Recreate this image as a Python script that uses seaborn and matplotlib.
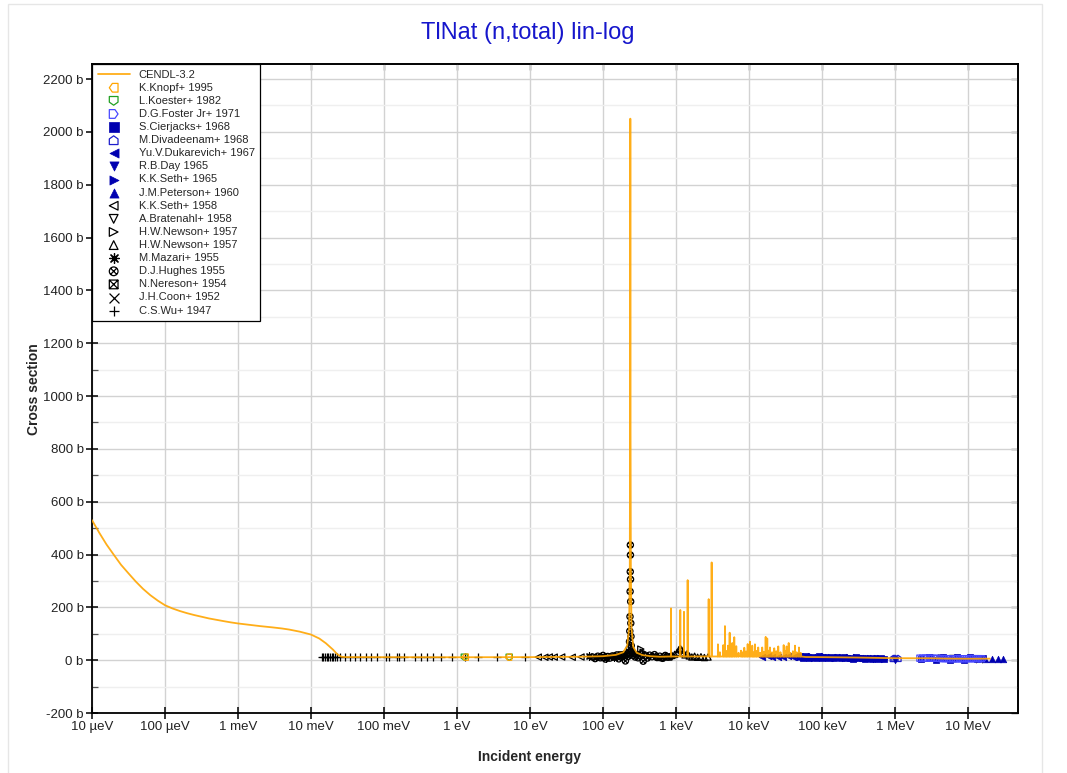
import numpy as np
import pandas as pd
import matplotlib
matplotlib.use("Agg")
import matplotlib.pyplot as plt
from matplotlib.path import Path
from matplotlib.ticker import FixedLocator, FixedFormatter, NullLocator, MultipleLocator, FuncFormatter
from matplotlib.patches import Rectangle
import seaborn as sns

# ---------------- data ----------------
title_text = "TlNat (n,total) lin-log"
x_label = "Incident energy"
y_label = "Cross section"

xtick_vals = [1e-5, 1e-4, 1e-3, 1e-2, 1e-1, 1, 10, 100, 1e3, 1e4, 1e5, 1e6, 1e7]
xtick_labels = ["10 µeV", "100 µeV", "1 meV", "10 meV", "100 meV", "1 eV", "10 eV",
                "100 eV", "1 keV", "10 keV", "100 keV", "1 MeV", "10 MeV"]

# CENDL-3.2 smooth part (eV, b)
cendl_E = [1e-5, 1.26e-5, 1.58e-5, 2e-5, 2.5e-5, 3.2e-5, 4e-5, 5e-5, 6.3e-5, 8e-5, 1e-4,
           1.26e-4, 1.6e-4, 2e-4, 2.5e-4, 3.2e-4, 4e-4, 5e-4, 6.3e-4, 8e-4, 1e-3, 1.4e-3,
           2e-3, 3e-3, 4e-3, 5e-3, 7e-3, 1e-2, 1.3e-2, 1.6e-2, 2e-2, 2.3e-2, 2.6e-2, 3e-2,
           0.1, 1, 10, 50, 100, 150, 190, 215, 228, 233, 235.5, 237, 238.5, 241, 246, 260,
           290, 350, 450, 600, 2000, 7500, 27000, 60000, 1e5, 3e5, 1e6, 2e6, 3e6, 5e6, 8e6,
           1e7, 1.4e7, 2e7]
cendl_xs = [530, 482, 438, 398, 361, 327, 297, 270, 246, 225, 208,
            196, 186, 178, 171, 164, 158, 153, 148, 143, 139, 134,
            129, 124, 120, 116, 108, 97, 82, 64, 40, 22, 13, 11.5,
            11.2, 11, 11.5, 13, 15, 20, 30, 55, 120, 350, 900, 2050, 900, 350, 120, 50,
            28, 19, 15, 13, 14, 15, 14, 12, 11.5, 10, 7.5, 7.5, 7.2, 6, 5.4,
            5.5, 5.6, 5.7]
# CENDL-3.2 narrow resonances (eV, peak b) on a background of res_bg
res_E = [855, 1146, 1288, 1446, 2806, 3083, 3758, 4000, 4447, 4690, 4900, 5155, 5440,
         5700, 5905, 6290, 6700, 7200, 7800, 8200, 8630, 9100, 9600, 10330, 11100, 11600,
         12080, 12700, 13400, 14200, 15200, 16000, 16940, 17800, 18600, 19400, 20700,
         22200, 23600, 25200, 27000, 29900, 31000, 32800, 35000, 37000, 40000, 42700,
         45000, 48400, 51000]
res_pk = [196, 190, 183, 303, 231, 370, 60, 30, 57, 129, 35, 55, 104,
          32, 65, 87, 53, 28, 36, 30, 47, 33, 61, 70, 55, 30,
          60, 35, 48, 28, 48, 32, 88, 82, 36, 48, 30,
          45, 34, 52, 30, 57, 36, 52, 65, 28, 34, 55,
          30, 48, 28]
res_bg = 14

knopf_E = [1.3, 5.1]
knopf_xs = [11.5, 11.5]
koester_E = [1.26, 5.19]
koester_xs = [11.3, 11.0]
foster_E = [2.2e6, 2.4e6, 2.6e6, 2.8e6, 3.0e6, 3.2e6, 3.5e6, 3.8e6, 4.1e6, 4.4e6, 4.7e6,
            5.0e6, 5.4e6, 5.8e6, 6.2e6, 6.7e6, 7.2e6, 7.7e6, 8.3e6, 8.9e6, 9.5e6, 10.2e6,
            11e6, 11.8e6, 12.6e6, 13.5e6, 14.4e6, 15.3e6, 16.2e6]
foster_xs = [7.5, 7.7, 7.8, 7.9, 7.8, 7.6, 7.3, 7.0, 6.7, 6.4, 6.1, 5.9, 5.7, 5.5, 5.4,
             5.3, 5.3, 5.3, 5.4, 5.4, 5.5, 5.5, 5.6, 5.7, 5.7, 5.7, 5.6, 5.6, 5.5]
cierjacks_E = [50e3, 55e3, 61e3, 67e3, 74e3, 82e3, 90e3, 100e3, 110e3, 121e3, 134e3,
               148e3, 163e3, 180e3, 198e3, 218e3, 241e3, 266e3, 293e3, 323e3, 356e3,
               393e3, 433e3, 478e3, 527e3, 581e3, 640e3, 700e3,
               2.3e6, 2.9e6, 3.6e6, 4.5e6, 5.6e6, 7.0e6, 8.7e6, 10.8e6, 13.4e6, 16e6]
cierjacks_xs = [15, 9, 14, 10, 13, 8, 14, 9, 12, 8, 13, 9, 11, 7, 12, 8, 10, 6, 11, 7,
                9, 5, 10, 6, 8, 5, 9, 6,
                3.0, 12.5, 2.5, 12.0, 2.0, 11.0, 2.5, 10.5, 3.0, 10.0]
divadeenam_E = [0.95e6, 1.0e6, 1.1e6]
divadeenam_xs = [6.5, 7.0, 6.8]
dukarevich_E = [15e3, 18e3, 21e3, 25e3, 29e3, 34e3, 40e3, 46e3]
dukarevich_xs = [12, 14, 11, 13, 12, 14, 11, 12]
day_E = [5.0e5, 1.0e6]
day_xs = [4, 2]
seth65_E = [50e3, 56e3, 62e3, 70e3, 78e3, 87e3, 97e3, 108e3, 120e3, 135e3, 150e3, 168e3,
            188e3, 210e3, 235e3, 262e3, 292e3, 325e3, 362e3, 404e3, 450e3, 502e3, 560e3,
            625e3, 700e3]
seth65_xs = [13, 16, 12, 14, 10, 13, 12, 15, 11, 12, 9, 12, 11, 9, 12, 8, 11, 10, 8, 10,
             7, 9, 7, 9, 6]
peterson_E = [1.71e7, 2.13e7, 2.58e7, 3.01e7]
peterson_xs = [5.6, 5.5, 5.4, 5.3]
seth58_E = [13, 16, 18.4, 21.5, 27.2, 37.9, 50]
seth58_xs = [11.5, 11, 12, 11.5, 12, 11, 12]
bratenahl_E = [95, 120, 150, 180]
bratenahl_xs = [10, 12, 15, 20]
newson_r_E = [330, 355, 385]
newson_r_xs = [42, 30, 21]
newson_u_E = [560, 640, 720, 800, 880, 960, 1040, 1100, 1150, 1200, 1260, 1330, 1420, 1520,
              1650, 1800, 1980, 2200, 2450, 2750]
newson_u_xs = [14, 10, 16, 12, 18, 22, 30, 40, 44, 38, 26, 20, 24, 16, 12, 15, 11, 13, 10, 12]
mazari_E = [65, 80, 110, 140]
mazari_xs = [14, 12, 10, 13]
hughes_E = [72, 78, 85, 92, 100, 108, 116, 125, 134, 144, 155, 165, 176, 186, 195, 203, 210,
            216, 221, 225, 229, 231, 233, 234.5, 235.5, 236.5, 237.2, 237.8, 238.6, 239.5,
            240.5, 242, 244, 247, 252, 258, 266, 276, 288, 302, 318, 336, 356, 380, 406,
            436, 470, 508, 550, 600, 655, 715, 780, 850]
hughes_xs = [12, 6, 15, 9, 18, 4, 14, 8, 16, 11, 20, 5, 17, 13, 22, -3, 19, 24, 14, 30, 45,
             70, 110, 165, 260, 335, 436, 398, 306, 222, 140, 90, 55, 35, 28, 18, 24, 12, 20,
             9, 17, 22, -4, 16, 8, 19, 13, 21, 10, 15, 7, 18, 12, 14]
nereson_E = [3.0e6, 4.3e6, 6.2e6]
nereson_xs = [8.6, 7.2, 6.2]
coon_E = [14.1e6]
coon_xs = [5.4]
wu_E = [0.01403, 0.01473, 0.01555, 0.0164, 0.01726, 0.0182, 0.0192, 0.0202, 0.0213, 0.0225,
        0.0249, 0.0292, 0.0342, 0.0401, 0.0469, 0.0561, 0.0657, 0.0809, 0.1064, 0.1182,
        0.149, 0.162, 0.188, 0.266, 0.321, 0.392, 0.473, 0.598, 0.845, 1.29, 1.96, 3.50, 8.55]
wu_xs = [12, 13, 12, 12, 13, 12, 12, 13, 12, 12, 12, 13, 12, 12, 12, 12, 12, 12, 12, 12,
         12, 12, 12, 12, 12, 12, 12, 12, 12, 12, 12, 12, 12]

# ---------------- markers ----------------
def poly(verts):
    v = list(verts) + [verts[0]]
    codes = [Path.MOVETO] + [Path.LINETO] * (len(verts) - 1) + [Path.CLOSEPOLY]
    return Path(v, codes)

house_left = poly([(1, -1), (1, 1), (-0.3, 1), (-1, 0), (-0.3, -1)])
shield_down = poly([(-1, 1), (1, 1), (1, -0.3), (0, -1), (-1, -0.3)])
house_right = poly([(-1, -1), (-1, 1), (0.3, 1), (1, 0), (0.3, -1)])
house_up = poly([(-1, -1), (1, -1), (1, 0.3), (0, 1), (-1, 0.3)])
circle_x = Path.make_compound_path(
    Path.unit_circle(),
    Path([(-0.7, -0.7), (0.7, 0.7)], [Path.MOVETO, Path.LINETO]),
    Path([(-0.7, 0.7), (0.7, -0.7)], [Path.MOVETO, Path.LINETO]))
square_x = Path.make_compound_path(
    poly([(-1, -1), (1, -1), (1, 1), (-1, 1)]),
    Path([(-1, -1), (1, 1)], [Path.MOVETO, Path.LINETO]),
    Path([(-1, 1), (1, -1)], [Path.MOVETO, Path.LINETO]))

ORANGE = "#FFA500"
BLUE_D = "#0000B0"

# (label, E, xs, marker, colour, fill mode, drawing order)
datasets = [
    ("K.Knopf+ 1995", knopf_E, knopf_xs, house_left, ORANGE, False, 3.2),
    ("L.Koester+ 1982", koester_E, koester_xs, shield_down, "#22A022", False, 3.1),
    ("D.G.Foster Jr+ 1971", foster_E, foster_xs, house_right, "#4848FF", False, 3.3),
    ("S.Cierjacks+ 1968", cierjacks_E, cierjacks_xs, "s", BLUE_D, True, 3.0),
    ("M.Divadeenam+ 1968", divadeenam_E, divadeenam_xs, house_up, "#1E1ECC", False, 3.0),
    ("Yu.V.Dukarevich+ 1967", dukarevich_E, dukarevich_xs, "<", BLUE_D, True, 3.0),
    ("R.B.Day 1965", day_E, day_xs, "v", BLUE_D, True, 3.0),
    ("K.K.Seth+ 1965", seth65_E, seth65_xs, ">", BLUE_D, True, 3.0),
    ("J.M.Peterson+ 1960", peterson_E, peterson_xs, "^", BLUE_D, True, 3.0),
    ("K.K.Seth+ 1958", seth58_E, seth58_xs, "<", "black", False, 3.0),
    ("A.Bratenahl+ 1958", bratenahl_E, bratenahl_xs, "v", "black", False, 3.0),
    ("H.W.Newson+ 1957", newson_r_E, newson_r_xs, ">", "black", False, 3.0),
    ("H.W.Newson+ 1957 ", newson_u_E, newson_u_xs, "^", "black", False, 3.0),
    ("M.Mazari+ 1955", mazari_E, mazari_xs, (8, 2, 0), "black", "line", 3.0),
    ("D.J.Hughes 1955", hughes_E, hughes_xs, circle_x, "black", False, 3.0),
    ("N.Nereson+ 1954", nereson_E, nereson_xs, square_x, "black", False, 2.9),
    ("J.H.Coon+ 1952", coon_E, coon_xs, "x", "black", "line", 3.0),
    ("C.S.Wu+ 1947", wu_E, wu_xs, "+", "black", "line", 3.0),
]

# ---------------- figure ----------------
sns.set_theme(style="white")
plt.rcParams['font.family'] = ['Liberation Sans', 'DejaVu Sans']

fig = plt.figure(figsize=(10.67, 7.73), dpi=100)
fig.patch.set_facecolor("white")
fig.add_artist(Rectangle((8 / 1067, -0.01), (1042 - 8) / 1067, 1 - 4 / 773 + 0.01,
                         transform=fig.transFigure, fill=False, edgecolor="#e6e6e6", lw=1))
ax = fig.add_axes([92 / 1067, 1 - 713 / 773, (1018 - 92) / 1067, (713 - 64) / 773])

# CENDL curve with resonance spikes
pts = list(zip(cendl_E, cendl_xs))
for e, p in zip(res_E, res_pk):
    pts += [(e * 0.997, res_bg), (e, p), (e * 1.003, res_bg)]
pts.sort(key=lambda t: t[0])
cendl_df = pd.DataFrame(pts, columns=["E", "xs"])
sns.lineplot(data=cendl_df, x="E", y="xs", ax=ax, color=ORANGE, lw=1.3, alpha=0.9,
             sort=False, estimator=None, label="CENDL-3.2", zorder=4)

for label, E, xs, m, col, filled, z in datasets:
    if filled is True:
        sns.scatterplot(x=E, y=xs, ax=ax, marker=m, s=22, color=col, edgecolor=col,
                        linewidth=0.5, label=label, zorder=z)
    elif filled == "line":
        sns.scatterplot(x=E, y=xs, ax=ax, marker=m, s=26, color=col,
                        linewidth=0.9, label=label, zorder=z)
    else:
        sns.scatterplot(x=E, y=xs, ax=ax, marker=m, s=20, color=col, facecolor="none",
                        edgecolor=col, linewidth=0.9, label=label, zorder=z)

ax.set_xscale("log")
ax.set_xlim(1e-5, 4.85e7)
ax.set_ylim(-200, 2257)
ax.xaxis.set_major_locator(FixedLocator(xtick_vals))
ax.xaxis.set_major_formatter(FixedFormatter(xtick_labels))
ax.xaxis.set_minor_locator(NullLocator())
ax.yaxis.set_major_locator(MultipleLocator(200))
ax.yaxis.set_minor_locator(MultipleLocator(100))
ax.yaxis.set_major_formatter(FuncFormatter(lambda v, p: f"{v:.0f} b"))
ax.set_xlabel("")
ax.set_ylabel("")

ax.grid(which="major", color="#d2d2d2", lw=1)
ax.grid(which="minor", axis="y", color="#efefef", lw=1)
ax.set_axisbelow(True)

for s in ax.spines.values():
    s.set_visible(True)
    s.set_color("black")
    s.set_linewidth(1.3)

ax.tick_params(which="major", direction="inout", length=8, width=1.1, color="black",
               labelsize=9.5, labelcolor="#222222", left=True, bottom=True, pad=2)
ax.tick_params(which="minor", direction="in", length=4, width=0.9, color="#555555", left=True)

secx = ax.secondary_xaxis("top")
secx.xaxis.set_major_locator(FixedLocator(xtick_vals))
secx.xaxis.set_minor_locator(NullLocator())
secx.tick_params(which="major", direction="in", length=4, width=1, color="#444444",
                 labeltop=False)
secy = ax.secondary_yaxis("right")
secy.yaxis.set_major_locator(MultipleLocator(200))
secy.yaxis.set_minor_locator(MultipleLocator(100))
secy.tick_params(which="major", direction="in", length=5, width=1, color="#444444",
                 labelright=False)
secy.tick_params(which="minor", direction="in", length=3, width=0.8, color="#666666")

handles, labels = ax.get_legend_handles_labels()
labels = [l.strip() for l in labels]
leg = ax.legend(handles, labels, loc="upper left", bbox_to_anchor=(0, 1), borderaxespad=0,
                frameon=True, fancybox=False, edgecolor="black", framealpha=1,
                fontsize=8.0, labelspacing=0.28, handlelength=2.9, handletextpad=0.8,
                borderpad=0.5, markerscale=1.4)
leg.get_frame().set_linewidth(0.9)
leg.set_zorder(10)

fig.text(528 / 1067, 1 - 33 / 773, title_text, ha="center", va="center", fontsize=17,
         color="#1616CC")
fig.text(529 / 1067, 1 - 757 / 773, x_label, ha="center", va="center", fontsize=10,
         fontweight="bold")
fig.text(34 / 1067, 1 - 389 / 773, y_label, ha="center", va="center", fontsize=10,
         fontweight="bold", rotation=90)

fig.savefig("out.png", dpi=100)
